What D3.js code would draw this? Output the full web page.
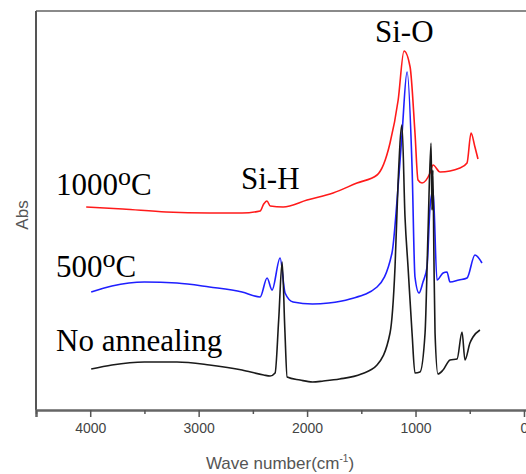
<!DOCTYPE html>
<html>
<head>
<meta charset="utf-8">
<script src="https://cdn.jsdelivr.net/npm/d3@7"></script>
<style>
  body { margin: 0; background: #fff; }
  svg { display: block; }
</style>
</head>
<body>
<svg id="chart" width="526" height="474"></svg>
<script>
// FTIR spectra, [wave number (cm-1), absorbance (a.u., offset per curve)]
const noAnnealing = [
  [3991, 0.41], [3800, 0.45], [3500, 0.48], [3200, 0.48], [2900, 0.45], [2600, 0.40],
  [2400, 0.35], [2341, 0.34], [2295, 0.37],
  [2262, 0.9], [2230, 1.48], [2205, 0.8], [2184, 0.33], [2065, 0.30], [1950, 0.28],
  [1850, 0.29], [1700, 0.31], [1500, 0.36], [1355, 0.45], [1235, 0.77], [1189, 1.43],
  [1161, 2.27], [1125, 2.85], [1097, 1.93], [1069, 1.43], [1032, 0.77], [1005, 0.37],
  [959, 0.38], [912, 0.77], [885, 1.77], [857, 2.67], [848, 2.0], [840, 2.4], [830, 1.5],
  [820, 0.77], [793, 0.36], [746, 0.40], [682, 0.50], [617, 0.51], [571, 0.78], [544, 0.50],
  [498, 0.67], [470, 0.73], [406, 0.80]
];
const anneal500 = [
  [3991, 1.18], [3800, 1.24], [3500, 1.28], [3200, 1.27], [2900, 1.23], [2600, 1.18],
  [2433, 1.13], [2369, 1.32],
  [2323, 1.20], [2249, 1.52], [2203, 1.17], [2129, 1.08], [1950, 1.06], [1800, 1.07],
  [1604, 1.11], [1355, 1.23], [1217, 1.57], [1170, 2.10], [1124, 2.77], [1078, 3.38],
  [1032, 2.43], [1005, 1.33], [968, 1.17], [931, 1.28], [894, 1.43], [866, 2.03], [838, 2.20],
  [802, 1.30], [746, 1.37], [710, 1.38], [682, 1.28], [600, 1.30], [525, 1.32], [452, 1.55],
  [387, 1.47]
];
const anneal1000 = [
  [4037, 2.03], [3700, 2.01], [3300, 1.98], [2900, 1.97], [2600, 1.97], [2433, 1.99],
  [2400, 2.06], [2370, 2.09], [2340, 2.04], [2221, 2.03], [2000, 2.10], [1760, 2.17],
  [1540, 2.27], [1355, 2.35], [1235, 2.67], [1160, 3.10], [1106, 3.59], [1050, 3.43],
  [1005, 2.77], [977, 2.30], [940, 2.27], [866, 2.37], [838, 2.45], [774, 2.38], [590, 2.42],
  [525, 2.47], [488, 2.77], [452, 2.63], [424, 2.51]
];
const series = [
  { name: '1000', data: anneal1000, color: '#ff1a1a' },
  { name: '500', data: anneal500, color: '#1f1fff' },
  { name: 'none', data: noAnnealing, color: '#1a1a1a' }
];
const majorTicks = [4000, 3000, 2000, 1000, 0];
const minorTicks = [4500, 3500, 2500, 1500, 500];

const svg = d3.select('#chart');
const margin = { top: 11, left: 36, bottom: 410 };

const x = d3.scaleLinear().domain([4500, -100]).range([36, 534.8]);
const y = d3.scaleLinear().domain([0, 4]).range([margin.bottom, margin.bottom - 400]);

// frame (top + left)
svg.append('line')
  .attr('x1', 36).attr('x2', 530).attr('y1', 11).attr('y2', 11)
  .attr('stroke', '#8a8a8a').attr('stroke-width', 2);
svg.append('line')
  .attr('x1', 36).attr('x2', 36).attr('y1', 11).attr('y2', 410)
  .attr('stroke', '#555').attr('stroke-width', 2);

// bottom axis
const axisG = svg.append('g').attr('transform', `translate(0,${margin.bottom})`);
axisG.call(d3.axisBottom(x).tickValues(majorTicks).tickSize(7).tickFormat(d3.format('d')));
axisG.select('.domain').attr('stroke', '#666').attr('stroke-width', 2.5);
axisG.selectAll('.tick line').attr('stroke', '#555').attr('stroke-width', 1.5);
axisG.selectAll('.tick text')
  .attr('font-family', 'Arial, "Liberation Sans", sans-serif')
  .attr('font-size', '14px')
  .attr('fill', '#444')
  .attr('dy', '0.9em');

const minorG = svg.append('g').attr('transform', `translate(0,${margin.bottom})`);
minorG.call(d3.axisBottom(x).tickValues(minorTicks).tickSize(4).tickFormat(''));
minorG.select('.domain').remove();
minorG.selectAll('.tick line').attr('stroke', '#555').attr('stroke-width', 1.5);

// axis labels
const xl = svg.append('text')
  .attr('x', 280).attr('y', 469)
  .attr('text-anchor', 'middle')
  .attr('font-family', 'Arial, "Liberation Sans", sans-serif')
  .attr('font-size', '17px')
  .attr('fill', '#555');
xl.append('tspan').text('Wave number(cm');
xl.append('tspan').attr('font-size', '10px').attr('dy', -7).text('-1');
xl.append('tspan').attr('dy', 7).text(')');

svg.append('text')
  .attr('transform', 'translate(28,215) rotate(-90)')
  .attr('text-anchor', 'middle')
  .attr('font-family', 'Arial, "Liberation Sans", sans-serif')
  .attr('font-size', '17px')
  .attr('fill', '#555')
  .text('Abs');

// spectra
const line = d3.line()
  .x(d => x(d[0]))
  .y(d => y(d[1]))
  .curve(d3.curveMonotoneX);

svg.append('g').selectAll('path')
  .data(series)
  .join('path')
  .attr('d', d => line(d.data))
  .attr('fill', 'none')
  .attr('stroke', d => d.color)
  .attr('stroke-width', 1.6)
  .attr('stroke-linejoin', 'round');

// annotations
const serif = '"Times New Roman", "Liberation Serif", serif';
function tempLabel(xp, yp, num) {
  const t = svg.append('text')
    .attr('x', xp).attr('y', yp)
    .attr('font-family', serif)
    .attr('font-size', '31px')
    .attr('fill', '#000');
  t.append('tspan').text(num);
  t.append('tspan').attr('font-size', '26px').attr('dy', -10).text('o');
  t.append('tspan').attr('dy', 10).text('C');
}
tempLabel(56, 195, '1000');
tempLabel(56, 277, '500');

svg.append('text')
  .attr('x', 56).attr('y', 351)
  .attr('font-family', serif).attr('font-size', '31px')
  .text('No annealing');

svg.append('text')
  .attr('x', 241).attr('y', 189)
  .attr('font-family', serif).attr('font-size', '31px')
  .text('Si-H');

svg.append('text')
  .attr('x', 375).attr('y', 42)
  .attr('font-family', serif).attr('font-size', '31px')
  .text('Si-O');
</script>
</body>
</html>
